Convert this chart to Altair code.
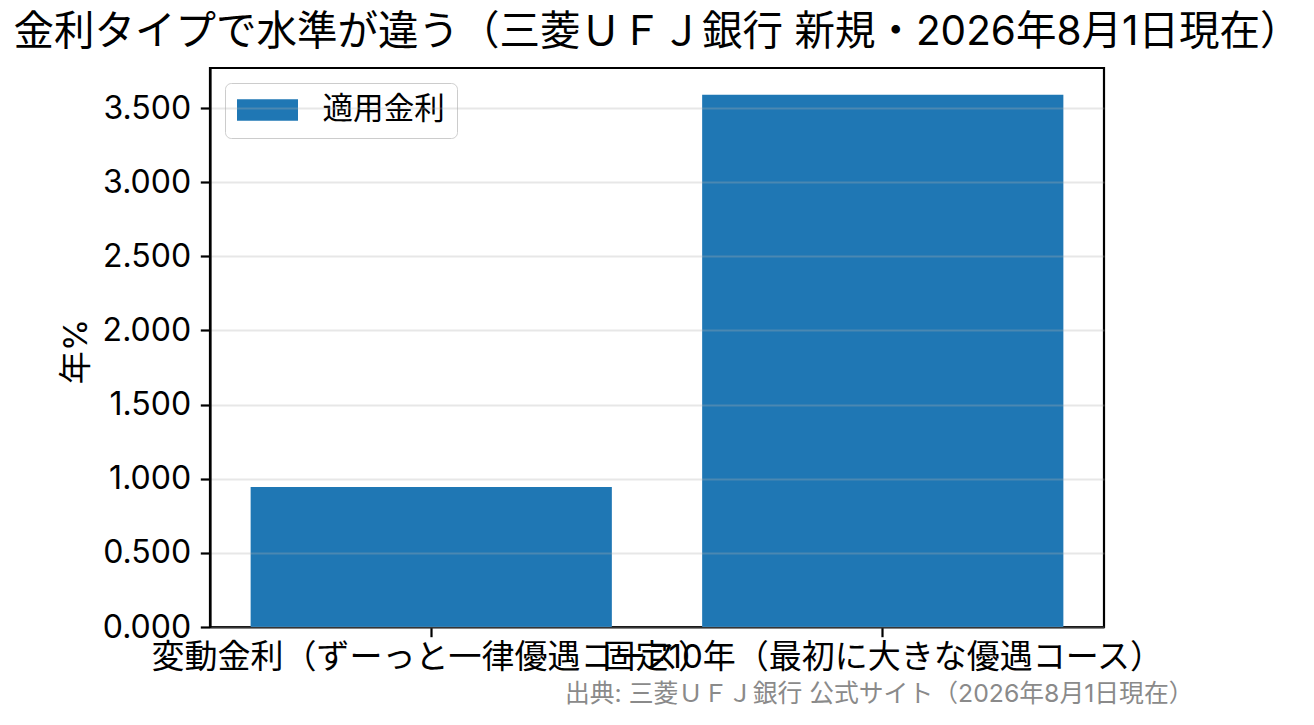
import altair as alt
import pandas as pd

categories = ["変動金利（ずーっと一律優遇コース）", "固定10年（最初に大きな優遇コース）"]
rates = [0.945, 3.59]
series_name = "適用金利"
y_ticks = [0.0, 0.5, 1.0, 1.5, 2.0, 2.5, 3.0, 3.5]

title_text = "金利タイプで水準が違う（三菱ＵＦＪ銀行 新規・2026年8月1日現在）"
source_text = "出典: 三菱ＵＦＪ銀行 公式サイト（2026年8月1日現在）"

df = pd.DataFrame({"cat": categories, "rate": rates, "series": [series_name] * len(categories)})

FONT = "Inter, Noto Sans CJK JP, sans-serif"

chart = alt.Chart(df).mark_bar(color="#1f77b4").encode(
    x=alt.X(
        "cat:N",
        sort=categories,
        scale=alt.Scale(paddingInner=0.2, paddingOuter=0.09),
        axis=alt.Axis(
            title=source_text,
            titleFont=FONT,
            titleFontSize=24.8,
            titleFontWeight="normal",
            titleColor="#8a8a8a",
            titleAlign="right",
            titleBaseline="middle",
            titleX=983,
            titleY=67,
            labelAngle=0,
            labelAlign="center",
            labelBaseline="top",
            labelLimit=0,
            labelOverlap=False,
            labelFont=FONT,
            labelFontSize=33,
            labelColor="black",
            labelPadding=5,
            tickSize=9.7,
            tickWidth=2.2,
            tickColor="black",
            domainColor="black",
            domainWidth=2.2,
            grid=False,
        ),
    ),
    y=alt.Y(
        "rate:Q",
        scale=alt.Scale(domain=[0, 3.77], nice=False, zero=True),
        axis=alt.Axis(
            title="年%",
            titleFont=FONT,
            titleFontSize=33,
            titleFontWeight="normal",
            titleColor="black",
            titleAngle=-90,
            titleAlign="center",
            titleBaseline="middle",
            titleX=-134,
            titleY=283,
            values=y_ticks,
            format=".3f",
            labelFont=FONT,
            labelFontSize=32,
            labelColor="black",
            labelPadding=9.7,
            tickSize=9.7,
            tickWidth=2.2,
            tickColor="black",
            domainColor="black",
            domainWidth=2.2,
            grid=True,
            gridColor="#b0b0b0",
            gridOpacity=0.3,
            gridWidth=2.2,
            zindex=1,
        ),
    ),
    fill=alt.Fill(
        "series:N",
        scale=alt.Scale(range=["#1f77b4"]),
        legend=alt.Legend(
            title=None,
            orient="none",
            legendX=15,
            legendY=15,
            padding=12,
            strokeColor="#cccccc",
            fillColor="white",
            cornerRadius=6,
            symbolType="M-1,-0.35L1,-0.35L1,0.35L-1,0.35Z",
            symbolSize=3721,
            symbolStrokeWidth=0,
            symbolOpacity=1,
            clipHeight=30,
            labelFont=FONT,
            labelFontSize=30.6,
            labelColor="black",
            labelOffset=24.5,
        ),
    ),
).properties(
    width=894,
    height=559,
    background="white",
    title=alt.TitleParams(
        text=title_text,
        font=FONT,
        fontSize=40.5,
        fontWeight="normal",
        color="black",
        anchor="middle",
        offset=15,
    ),
    autosize=alt.AutoSizeParams(type="none"),
    padding={"left": 202, "top": 60, "right": 200, "bottom": 90},
).configure_view(
    stroke="black",
    strokeWidth=2.2,
)

chart.save("out.html", embed_options={"renderer": "svg", "actions": False})
